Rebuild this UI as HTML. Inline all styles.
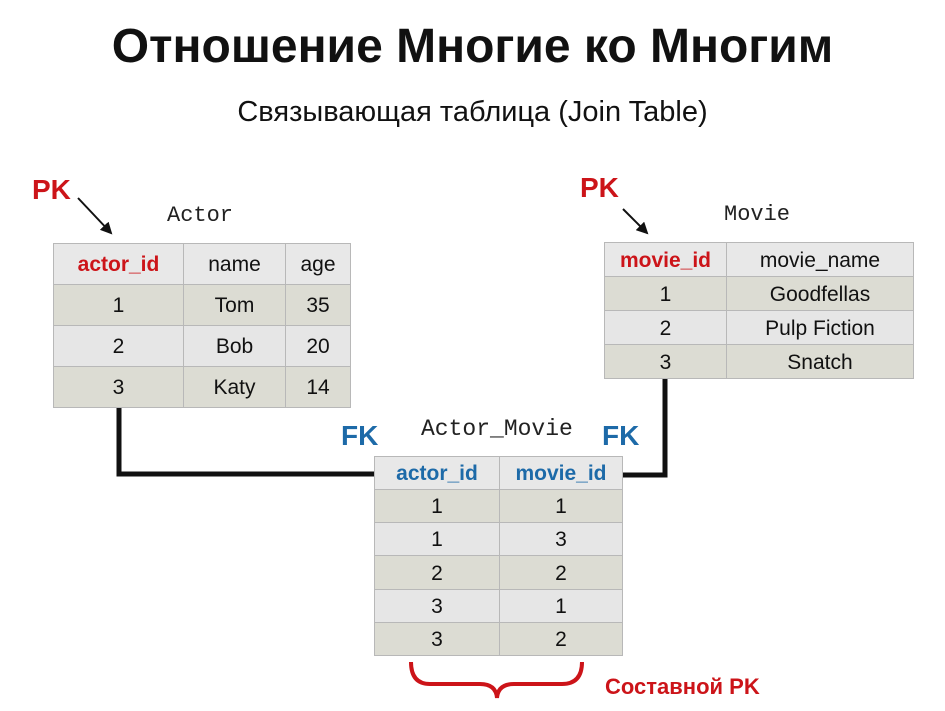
<!DOCTYPE html>
<html><head><meta charset="utf-8"><style>
body{margin:0;width:945px;height:711px;background:#fff;position:relative;overflow:hidden;font-family:"Liberation Sans",sans-serif}
.a{position:absolute;white-space:nowrap}
table{position:absolute;border-collapse:collapse;background:#e6e6e6}
td{border:1px solid #b8b8b8;text-align:center;padding:2px 0 0 0;font-size:21px;color:#111}
tr:nth-child(even) td{background:#dcdcd3}
tr:first-child td{background:#e8e8e8}
.mono{font-family:"Liberation Mono",monospace;font-size:22px;color:#222}
.red{color:#cc1419;font-weight:bold}
.blue{color:#1d6aa8;font-weight:bold}
</style></head><body>
<div class="a" style="left:0;width:945px;text-align:center;top:19px;font-size:48px;font-weight:bold;color:#111">Отношение Многие ко Многим</div>
<div class="a" style="left:0;width:945px;text-align:center;top:96px;font-size:29px;color:#111">Связывающая таблица (Join Table)</div>
<svg class="a" style="left:0;top:0" width="945" height="711">
<defs><marker id="ar" markerWidth="12" markerHeight="12" refX="10" refY="6" orient="auto" markerUnits="userSpaceOnUse"><path d="M0,0 L12,6 L0,12z" fill="#111"/></marker></defs>
<line x1="78" y1="198" x2="111" y2="233" stroke="#111" stroke-width="2" marker-end="url(#ar)"/>
<line x1="623" y1="209" x2="647" y2="233" stroke="#111" stroke-width="2" marker-end="url(#ar)"/>
<polyline points="119,407 119,474 376,474" fill="none" stroke="#111" stroke-width="5"/>
<polyline points="665,378 665,475 620,475" fill="none" stroke="#111" stroke-width="5"/>
<path d="M411,662 Q411,684 430,684 L480,684 Q496,684 497,698 Q498,684 514,684 L562,684 Q582,684 582,662" fill="none" stroke="#cc1419" stroke-width="4"/>
</svg>
<div class="a red" style="left:32px;top:174px;font-size:28px">PK</div>
<div class="a red" style="left:580px;top:172px;font-size:28px">PK</div>
<div class="a mono" style="left:167px;top:203px">Actor</div>
<div class="a mono" style="left:724px;top:202px">Movie</div>
<div class="a mono" style="left:421px;top:416px;font-size:23px">Actor_Movie</div>
<div class="a blue" style="left:341px;top:420px;font-size:28px">FK</div>
<div class="a blue" style="left:602px;top:420px;font-size:28px">FK</div>
<div class="a red" style="left:605px;top:674px;font-size:22px">Составной PK</div>
<table style="left:53px;top:243px;width:298px;height:165px">
<tr><td style="width:129px" class="red">actor_id</td><td style="width:101px">name</td><td>age</td></tr>
<tr><td>1</td><td>Tom</td><td>35</td></tr>
<tr><td>2</td><td>Bob</td><td>20</td></tr>
<tr><td>3</td><td>Katy</td><td>14</td></tr>
</table>
<table style="left:604px;top:242px;width:310px;height:137px">
<tr><td style="width:121px" class="red">movie_id</td><td>movie_name</td></tr>
<tr><td>1</td><td>Goodfellas</td></tr>
<tr><td>2</td><td>Pulp Fiction</td></tr>
<tr><td>3</td><td>Snatch</td></tr>
</table>
<table style="left:374px;top:456px;width:249px;height:200px">
<tr><td style="width:124px" class="blue">actor_id</td><td class="blue">movie_id</td></tr>
<tr><td>1</td><td>1</td></tr>
<tr><td>1</td><td>3</td></tr>
<tr><td>2</td><td>2</td></tr>
<tr><td>3</td><td>1</td></tr>
<tr><td>3</td><td>2</td></tr>
</table>
</body></html>
